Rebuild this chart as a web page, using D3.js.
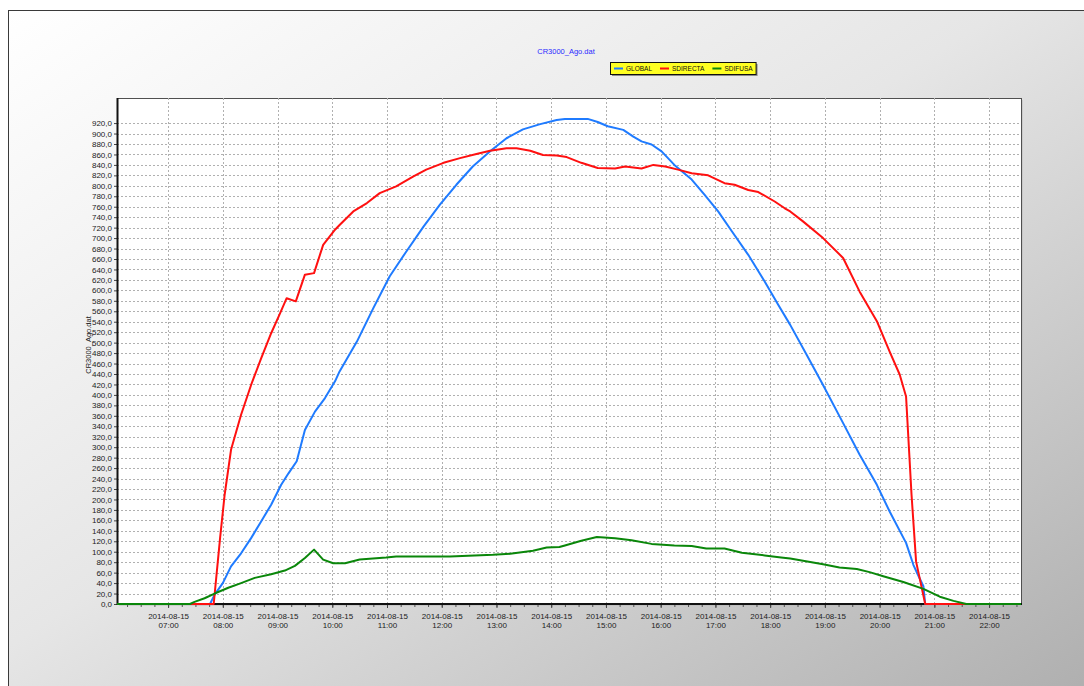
<!DOCTYPE html>
<html>
<head>
<meta charset="utf-8">
<script src="https://cdn.jsdelivr.net/npm/d3@7"></script>
<style>
body { margin: 0; background: #fff; }
svg { display: block; font-family: "Liberation Sans", Arial, sans-serif; }
</style>
</head>
<body>
<script>
// ---- data (2014-08-15) ----
const day = "2014-08-15";
const timeStart = "06:04", timeEnd = "22:35";
const yMax = 968;
const yTicks = [0,20,40,60,80,100,120,140,160,180,200,220,240,260,280,300,320,340,360,380,400,420,440,460,480,
  500,520,540,560,580,600,620,640,660,680,700,720,740,760,780,800,820,840,860,880,900,920];
const hourTicks = ["07:00","08:00","09:00","10:00","11:00","12:00","13:00","14:00","15:00",
  "16:00","17:00","18:00","19:00","20:00","21:00","22:00"];
const seriesNames = ["GLOBAL", "SDIRECTA", "SDIFUSA"];
const seriesColors = ["#1f7bff", "#ff1010", "#0a870a"];

const globalData = [
  ["06:04",0],["07:46",0],["07:51",18],["08:00",40],["08:09",72],["08:20",97],["08:31",126],["08:42",158],
  ["08:53",190],["09:04",228],["09:12",250],["09:21",273],["09:30",333],["09:41",368],["09:52",394],
  ["10:03",426],["10:08",445],["10:27",502],["10:45",566],["11:03",627],["11:21",674],["11:40",722],
  ["11:58",764],["12:16",802],["12:34",837],["12:53",866],["13:11",891],["13:29",908],["13:48",918],
  ["14:06",926],["14:15",928],["14:40",928],["14:51",922],["15:02",914],["15:19",907],["15:30",894],
  ["15:39",885],["15:50",879],["16:01",866],["16:15",840],["16:34",812],["16:48",783],["17:03",751],
  ["17:18",713],["17:36",668],["17:54",617],["18:09",572],["18:22",534],["18:40",477],["18:58",419],
  ["19:20",346],["19:38",286],["19:57",228],["20:11",177],["20:29",117],["20:37",75],["20:42",56],
  ["20:48",34],["20:50",0],["22:35",0]
];
const directaData = [
  ["06:04",0],["07:50",0],["07:57",126],["08:02",209],["08:09",295],["08:20",362],["08:31",419],
  ["08:42",470],["08:53",518],["09:02",553],["09:10",585],["09:20",579],["09:30",630],["09:40",633],
  ["09:50",687],["10:03",716],["10:08",725],["10:23",751],["10:38",767],["10:52",786],["11:10",799],
  ["11:29",818],["11:43",831],["12:02",844],["12:20",853],["12:38",861],["12:53",867],["13:11",872],
  ["13:22",872],["13:37",867],["13:51",859],["14:06",858],["14:17",855],["14:33",844],["14:51",834],
  ["15:10",833],["15:21",837],["15:39",833],["15:52",840],["16:05",837],["16:19",831],["16:34",824],
  ["16:52",820],["17:10",805],["17:21",802],["17:36",792],["17:47",788],["18:05",770],["18:16",757],
  ["18:22",751],["18:36",732],["18:58",700],["19:20",662],["19:38",598],["19:57",541],["20:11",483],
  ["20:22",439],["20:29",397],["20:35",209],["20:40",81],["20:50",0],["22:35",0]
];
const difusaData = [
  ["06:04",0],["07:24",0],["07:29",4],["07:40",11],["07:51",20],["08:06",31],["08:20",40],["08:35",50],
  ["08:53",57],["09:08",64],["09:19",73],["09:30",88],["09:40",104],["09:50",85],["10:01",78],
  ["10:14",78],["10:30",85],["10:59",89],["11:10",91],["12:09",91],["12:56",94],["13:15",96],
  ["13:40",102],["13:55",108],["14:09",109],["14:15",112],["14:33",121],["14:50",128],["15:10",126],
  ["15:28",122],["15:50",115],["16:15",112],["16:34",111],["16:50",106],["17:10",106],["17:29",98],
  ["17:54",93],["18:12",89],["18:22",87],["18:58",76],["19:16",70],["19:35",67],["19:49",61],
  ["20:04",53],["20:26",42],["20:48",29],["21:06",14],["21:21",6],["21:35",0],["22:35",0]
];
const seriesData = [globalData, directaData, difusaData];

// ---- layout ----
const width = 1084, height = 686;
const plot = { left: 117, right: 1021, top: 98, bottom: 604 };
const parse = d3.timeParse("%Y-%m-%d %H:%M");
const toDate = t => parse(day + " " + t);

const x = d3.scaleTime()
  .domain([toDate(timeStart), toDate(timeEnd)])
  .range([plot.left, plot.right]);
const y = d3.scaleLinear()
  .domain([0, yMax])
  .range([plot.bottom, plot.top]);

const svg = d3.select("body").append("svg")
  .attr("width", width)
  .attr("height", height);

const defs = svg.append("defs");
const grad = defs.append("linearGradient")
  .attr("id", "bg")
  .attr("x1", 0).attr("y1", 0).attr("x2", 1).attr("y2", 1);
grad.append("stop").attr("offset", "0%").attr("stop-color", "#ffffff");
grad.append("stop").attr("offset", "45%").attr("stop-color", "#e6e6e6");
grad.append("stop").attr("offset", "100%").attr("stop-color", "#acacac");

defs.append("clipPath").attr("id", "clip")
  .append("rect")
  .attr("x", plot.left)
  .attr("y", plot.top)
  .attr("width", plot.right - plot.left)
  .attr("height", plot.bottom - plot.top + 2);

// background frame
svg.append("rect").attr("width", width).attr("height", height).attr("fill", "#fff");
svg.append("rect")
  .attr("x", 8.5).attr("y", 10.5)
  .attr("width", width + 20).attr("height", height + 20)
  .attr("fill", "url(#bg)")
  .attr("stroke", "#3a3a3a");

// plot area with soft shadow
svg.append("rect")
  .attr("x", plot.left + 2).attr("y", plot.top + 2)
  .attr("width", plot.right - plot.left).attr("height", plot.bottom - plot.top)
  .attr("fill", "#b8b8b8").attr("opacity", 0.5);
svg.append("rect")
  .attr("x", plot.left + 0.5).attr("y", plot.top + 0.5)
  .attr("width", plot.right - plot.left).attr("height", plot.bottom - plot.top)
  .attr("fill", "#fff")
  .attr("stroke", "#505050");

// grid
const grid = svg.append("g").attr("stroke", "#b0b0b0").attr("stroke-dasharray", "2,2");
grid.selectAll(".hg")
  .data(yTicks.filter(d => d > 0))
  .join("line")
  .attr("x1", plot.left).attr("x2", plot.right)
  .attr("y1", d => Math.round(y(d)) + 0.5)
  .attr("y2", d => Math.round(y(d)) + 0.5);
grid.selectAll(".vg")
  .data(hourTicks)
  .join("line")
  .attr("x1", d => Math.round(x(toDate(d))) + 0.5)
  .attr("x2", d => Math.round(x(toDate(d))) + 0.5)
  .attr("y1", plot.top)
  .attr("y2", plot.bottom);

// y axis
const yAxis = svg.append("g")
  .attr("transform", `translate(${plot.left},0)`)
  .call(d3.axisLeft(y).tickValues(yTicks).tickSize(3).tickPadding(2)
    .tickFormat(d => d + ",0"));
yAxis.select(".domain").remove();
yAxis.selectAll("text").attr("font-size", 8).attr("fill", "#222")
  .attr("font-family", "'Liberation Sans', Arial, sans-serif");
yAxis.selectAll("line").attr("stroke", "#444");

// x axis: minor ticks every 15 min, major each hour
const xAxisMinor = svg.append("g")
  .attr("transform", `translate(0,${plot.bottom})`)
  .call(d3.axisBottom(x).ticks(d3.timeMinute.every(15)).tickSize(3).tickFormat(""));
xAxisMinor.select(".domain").remove();
xAxisMinor.selectAll("line").attr("stroke", "#555");

const xAxis = svg.append("g")
  .attr("transform", `translate(0,${plot.bottom})`)
  .call(d3.axisBottom(x).tickValues(hourTicks.map(toDate)).tickSize(4).tickFormat(""));
xAxis.select(".domain").remove();
xAxis.selectAll("line").attr("stroke", "#444");
xAxis.selectAll(".tick").append("text")
  .attr("fill", "#222")
  .attr("font-size", 8)
  .attr("text-anchor", "middle")
  .attr("y", 14.5)
  .text(day);
xAxis.selectAll(".tick").append("text")
  .attr("fill", "#222")
  .attr("font-size", 8)
  .attr("text-anchor", "middle")
  .attr("y", 24)
  .text((d, i) => hourTicks[i]);

// axis lines
svg.append("line")
  .attr("x1", plot.left + 0.5).attr("x2", plot.left + 0.5)
  .attr("y1", plot.top).attr("y2", plot.bottom + 1)
  .attr("stroke", "#111").attr("stroke-width", 2);
svg.append("line")
  .attr("x1", plot.left).attr("x2", plot.right + 1)
  .attr("y1", plot.bottom).attr("y2", plot.bottom)
  .attr("stroke", "#111").attr("stroke-width", 2);

// series
const line = d3.line()
  .x(d => x(toDate(d[0])))
  .y(d => y(d[1]));
svg.append("g").attr("clip-path", "url(#clip)")
  .selectAll("path")
  .data(seriesData)
  .join("path")
  .attr("fill", "none")
  .attr("stroke", (d, i) => seriesColors[i])
  .attr("stroke-width", 2)
  .attr("stroke-linejoin", "round")
  .attr("d", line);

// title
svg.append("text")
  .attr("x", 566).attr("y", 53.5)
  .attr("text-anchor", "middle")
  .attr("font-size", 7.5)
  .attr("fill", "#2a2aff")
  .text("CR3000_Ago.dat");

// y axis title
svg.append("text")
  .attr("transform", `translate(91,345) rotate(-90)`)
  .attr("text-anchor", "middle")
  .attr("font-size", 7.5)
  .attr("fill", "#222")
  .text("CR3000_Ago.dat");

// legend
const legend = svg.append("g").attr("transform", "translate(610,62)");
const legendShadow = legend.append("rect").attr("x", 2).attr("y", 2).attr("height", 12).attr("fill", "#8a8a8a");
const legendBox = legend.append("rect").attr("x", 0.5).attr("y", 0.5).attr("height", 12)
  .attr("fill", "#ffff22").attr("stroke", "#111");
let cursor = 4;
seriesNames.forEach((name, i) => {
  legend.append("line")
    .attr("x1", cursor).attr("x2", cursor + 9)
    .attr("y1", 6.5).attr("y2", 6.5)
    .attr("stroke", seriesColors[i]).attr("stroke-width", 2);
  const t = legend.append("text")
    .attr("x", cursor + 12).attr("y", 9.3)
    .attr("font-size", 6.5)
    .attr("fill", "#111")
    .text(name);
  cursor += 12 + t.node().getComputedTextLength() + 8;
});
legendBox.attr("width", cursor - 5);
legendShadow.attr("width", cursor - 5);
</script>
</body>
</html>
